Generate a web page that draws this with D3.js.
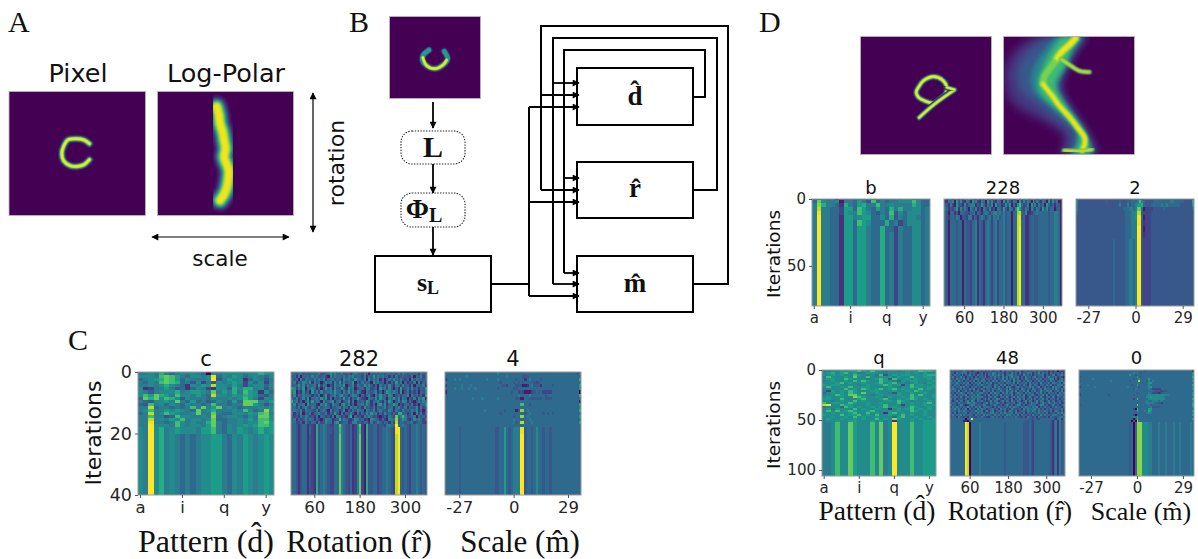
<!DOCTYPE html>
<html>
<head>
<meta charset="utf-8">
<script src="https://cdn.jsdelivr.net/npm/d3@7"></script>
<style>
  body { margin: 0; background: #fff; }
  text { fill: #111; }
  .mpl { font-family: "DejaVu Sans"; }
  .serif { font-family: "Liberation Serif"; }
</style>
</head>
<body>
<div id="chart"></div>
<script>
// Column categories and tick labels shared by the heatmaps
const patternLetters = "abcdefghijklmnopqrstuvwxyz".split("");
const rotationAngles = d3.range(0, 360, 6);
const scaleSteps = d3.range(60);
const patternTicks = ["a", "i", "q", "y"];
const rotationTicks = [60, 180, 300];
const scaleTicks = [6, 30, 54];
const scaleTickLabels = ["-27", "0", "29"];

// Iteration at which each typed row ends
const cRowEnds = [1,2,3,4,5,6,7,8,9,10,11,12,13,14,15,16,17,18,20,40];
const dTopRowEnds = [1,3,6,9,12,16,20,25,30,40,80];
const dBottomRowEnds = [2,4,6,8,10,12,14,16,18,20,22,24,26,28,30,32,34,36,38,40,42,44,46,48,50,52,106];

// Heatmap values, one hex digit per cell (0 = dark purple, f = yellow).
// Spaces only group the digits so the rows are easier to check.
const cPattern = [
  "6676965676 7650767777 677977",
  "7776aba865 7767e57687 567657",
  "56789ba857 6667f46877 257646",
  "6576aba956 4736476787 375736",
  "6676797652 7687d77686 367757",
  "7236686452 5763277597 996746",
  "7646777967 8876b68696 a87275",
  "7a8b986a77 6865d77687 987546",
  "5b9b7a9747 6665766767 a86376",
  "6547786b65 8564576585 bbb768",
  "54a6757657 6656a66566 bb8646",
  "66d5665656 a6b68b6765 666767",
  "67a6687876 5b67966676 a756c7",
  "56d67a8766 7b66b65577 687ab6",
  "66a6645a77 6676c56776 576bb7",
  "66d67687a6 7767b55667 686aa7",
  "66e6656a76 7669b65667 677ab8",
  "66f7776a76 7768b65767 878aa8",
  "76f7967877 7688a65768 767978",
  "76f7967656 5677886576 876787"
];
const cRotation = [
  "5545645445 5564455857 5564453565 5465155545 5455554646 5455553645",
  "4526155547 4644531746 5546465745 5362548465 6452526345 4436154735",
  "5451736554 6465725564 5527564485 5461746562 5146475464 3517465545",
  "4625476482 6451475627 4836455815 3645517564 5152538461 5243617254",
  "4548473645 6283651427 5658145726 5485742516 4547426537 4526155462",
  "8736481557 5251485627 4485275614 5526634518 5637415283 4637452548",
  "5814273518 4637455648 5527484637 5216545725 1486575281 4625351546",
  "4725465552 5361482557 4684525764 1525731648 5537614535 5716453528",
  "5462473815 5648572615 4538462548 5321654738 5516584726 5143627581",
  "9562515738 4651745682 5714582615 4538625574 2638514738 6253146475",
  "4725561845 5216584275 5168472515 5647525168 4725586142 5536241557",
  "5536257436 5274565254 5736527564 5284536254 5735625743 6254472635",
  "5654726554 3725641735 5247153647 5516547256 4437526437 4546572514",
  "6253715462 5574462538 4162547416 2537485625 3745353994 5246173625",
  "5342647534 2615534261 7534269153 4265753421 342653b56a 6345615453",
  "4625347465 2531476523 4946532476 4523176542 531765c458 6324756535",
  "5533526435 5263475526 8345523674 5355263475 355263d455 4556345532",
  "5542455243 2945654335 5b65435236 b319445534 436655f556 5435565454",
  "5542455253 2945654435 5a65435236 a319445534 556543ef54 5435565454",
  "5542455243 2945654335 5b65435236 b319445534 556543df54 5435565454"
];
const cScale = [
  "5555555555 5555555555 5557555555 5555555555 5555555555 5555555546",
  "4555555556 5555555555 5555555655 5555444555 5555555555 5555555555",
  "2555656555 5555555565 5556555555 5455525655 5545555555 5555555559",
  "5555555555 5555555555 5555455555 4545455554 3455555555 5555555555",
  "2555555655 5655555555 5555544355 5444112564 4425555455 5555555558",
  "5555655655 6556555555 5554555555 4455555555 5555555555 5555555557",
  "1555555555 5555555555 5555555554 5534311134 5453333555 5555555550",
  "4555555555 5555555555 5555555555 5565555755 5555455555 5555555559",
  "5555555555 5565556555 5556555555 5441155444 4445444555 5555555555",
  "5555555555 5555555555 5555555555 5555555555 5555555555 5555555551",
  "5555555555 5555555555 5555555555 555aa55455 5555555555 5555555558",
  "5555555555 5555555555 5555555555 5555555555 5555555555 5555555556",
  "5555555555 5555555655 5555554555 514cc56555 5555555555 5555555559",
  "5555555555 5555555555 5555455555 5555545655 5554545455 5555555555",
  "5555555555 5555555555 5555555555 455cc56555 5555555555 5555555558",
  "5555555555 5555555555 5555555555 6555555655 5555555555 5555555555",
  "5555555555 5555555555 5555555555 645dd55565 5555555555 5555555558",
  "5555555555 5555555555 5555555555 5555555555 5555555555 5555555555",
  "5555554555 5555555555 5544558545 666ee45545 7554554555 5555555555",
  "5555554555 5555555555 5544558545 666ff45545 7554554555 5555555555"
];
const dTopPattern = [
  "4444414454 4444544454 554444",
  "5b76671665 864a565667 77a755",
  "6c96652965 8966a66766 669755",
  "6d66553885 a865865969 667756",
  "6e66553876 a875465a47 577756",
  "6f66552886 7885575946 577656",
  "6f66552885 a875559563 577756",
  "6f66552885 8865595536 557756",
  "6f66552885 8865595636 557756",
  "6f66552885 8865595636 557756",
  "6f66552885 8865595636 557756"
];
const dTopRotation = [
  "4143143241 5463413514 3524132534 1352413524 3643524135 2413052331",
  "3265718473 2651847326 5184732651 8374265183 7465193742 6518374611",
  "5426318442 7356672438 5264718452 37481527a5 3461837264 5185352541",
  "6524358274 6416537241 6537241653 8426527b84 3651743652 8473551451",
  "5415524155 4435562542 5653567564 6455155cd5 4722355655 5554556651",
  "5425546514 4366254256 5356365645 6455155de4 5224554455 5554556651",
  "5415554551 5443556254 2565356355 6455155de5 5224554455 5554556651",
  "5415554551 5443556254 2565356355 6455155df5 5224554455 5554556651",
  "5415554551 5443556254 2565356355 6455155df5 5224554455 5554556651",
  "5415554551 5443556254 2565356355 6455155df5 5224554455 5554556651",
  "5415554551 5443556254 2565356355 6455155df5 5224554455 5554556651"
];
const dTopScale = [
  "3333333333 3333333333 3333334444 4443344444 4433343333 3343334333",
  "7444444444 4444454444 4454445455 56a6544445 5555555566 5555544449",
  "6444444444 4444444444 4464446455 6889544455 5556556555 5554444448",
  "6444444444 4444444444 4444555665 6bb5133334 4444544444 4444444445",
  "5444444444 4444444444 4444455566 7dd4333344 4444444444 4444444444",
  "4444444444 4444444444 4444455566 7ee5133344 4444444444 4444444444",
  "4444444444 4444444444 4444455566 6ee4233344 4444444444 4444444444",
  "4444444444 4444444444 4444455566 6ff4133344 4444444444 4444444444",
  "4444444444 4444444444 4444455566 6ff4233344 4444444444 4444444444",
  "4444444444 4444444445 4444455665 6ff4333344 4444444444 4444444444",
  "4444444444 4444444445 4444455665 6ff4333344 4444444444 4444444444"
];
const dBottomPattern = [
  "66778788a8 7a77677678 77a998",
  "78978a7866 8877677778 787877",
  "7787877a87 676a478788 777899",
  "6a77787b77 a768786877 a77887",
  "78877a8777 678a84a778 787787",
  "6787787a7a 877a876587 887778",
  "7778a78778 778a78a776 787687",
  "8788777767 8778a87837 a78778",
  "7a7787a778 8776787677 a87788",
  "67777a787a 878a78a787 87a787",
  "638787a877 7887778778 7a8777",
  "578787a87b 7787764877 877877",
  "677a87bb87 7678777877 a7a778",
  "7877877ca8 7787687787 a87778",
  "8877a7778a 7778a76878 a87877",
  "7767877a78 7777887a87 677787",
  "a78877a877 8778777a77 8778a7",
  "de77a88777 8777a77737 877878",
  "67775a8787 7878a78767 a87787",
  "7868777a78 7787727878 a78787",
  "7a7a78a877 8a77787877 a87877",
  "7787878a77 a78728a787 877877",
  "8777a788a7 87a77877a7 877877",
  "7787787a78 77877758a7 787787",
  "7877877878 77a787c877 878778",
  "6778778877 7878672777 877888",
  "667a77b877 7a7b67f777 a77888"
];
const dBottomRotation = [
  "4535445653 4245453524 4534552635 4543556245 3545536443 5242450423",
  "5526457562 5453145263 5476354525 5364526354 6562547364 5263545362",
  "5364536254 7352645362 5475564725 5674534274 5362545562 5347625574",
  "4635473525 4525355462 3546453746 2574562537 4525735462 5745362531",
  "4536554736 2547635625 4536354736 2547362537 5425374625 4576252473",
  "6453746253 5462547562 5374625574 6527456253 7462537462 5374625574",
  "5547453647 2536572536 4725364526 5546273546 2735452735 4627554628",
  "5364525364 5253647453 6427536472 5364525364 2753642553 6472536573",
  "4635474635 2546352746 5527463527 4632574535 4746357246 3527465527",
  "5753462553 6472536425 5364475346 2753462753 5427534627 5546275364",
  "5463725463 5254632754 6372546437 5463725463 7254634754 6572546372",
  "3526475526 4735467435 2647552647 3562475526 4735264735 2645352647",
  "6372546572 5463752463 7254637254 5372546372 5467325463 7254637554",
  "4556374256 3746567342 5637425637 4256374562 3742563742 5637425537",
  "7362545362 5473652473 6254763254 5362547362 5473625473 6254536254",
  "5247365247 3852647352 4736524736 5274365247 3652473652 4736524536",
  "4553644458 6475342557 3644753524 5546247436 2475562475 3654753624",
  "6452476312 5763544763 2547435247 5352576352 4565524763 5247435247",
  "3647453548 4536472556 5425364545 3647553647 5536572536 4525364525",
  "5574635471 6352746552 4563527463 5274435274 6555746352 5463545463",
  "4553654754 3547556247 3562455362 4753624553 6547536547 5362475362",
  "5362545562 5453647453 4674536474 5562745362 5453547453 6244536574",
  "4645572645 5526453746 5437464537 5645372645 3526453746 4537564537",
  "4552644352 6443546443 2564535264 4554644352 6543526443 5264435564",
  "5555555505 5e55555555 5555555455 5555555555 5444543555 5555425626",
  "5555555110 5555545555 5555555555 5555555554 4543555555 5542562645",
  "55555555fd 0555565555 5555555545 5555555544 4543555555 5542562645"
];
const dBottomScale = [
  "5555555555 5555555555 5555555555 6555455555 5555555555 5555555551",
  "5555555555 5555555555 5555555575 6545555555 5555555555 5555555558",
  "5555555555 5555555555 5555558554 5555555555 5555555555 5555555557",
  "4555555555 5555555555 5555555555 8545555555 5555555555 5555555559",
  "5555555655 5555555555 5555555545 5755558555 5555555555 5555555556",
  "4555555555 5555556555 5555554555 5d55547565 5555555555 5555555558",
  "5555555555 5555555555 5555555555 6555557855 5555555555 5555555555",
  "5555655555 5555555555 5555555455 8555557555 5555555555 5555555559",
  "3555555565 5555555555 5555565555 5455557855 5555555555 5555555556",
  "5555555555 5555555555 5555555546 5555556533 3335555555 5555555558",
  "5555555555 5555555555 5555555555 5555555554 4433445555 5555555555",
  "4555555555 5555555555 5555555555 3555556533 3234555555 5555555557",
  "3555555555 5555545555 5555555545 5555567777 7777776555 5555555558",
  "5555555555 5555555555 5555555555 5555577877 7777655555 5555555555",
  "5555555555 5555555555 5555555535 a555557777 7777755555 5555555559",
  "5555555555 5555555555 5555555555 5555565566 6566555555 5555555556",
  "5555555555 5555555555 5555555555 3555576665 5443555555 5555555558",
  "4555555555 5555555555 5555555555 c555556455 5555555555 5555555559",
  "5555555555 5555555555 5555555555 5555555644 4455555555 5555555557",
  "5555555555 5555555555 5555555530 a555558855 5555555555 5555555555",
  "5555555555 5555555555 5555555555 9555659755 5555555555 5555555558",
  "5555555555 5555555555 5555555555 5555567655 5555555555 5555555556",
  "5555555555 5555555555 5555555530 5555555555 5555555555 5555555558",
  "5555555555 5555555555 5555555575 9555555555 5555555555 5555555555",
  "5555555555 5555555555 5555555505 a555555555 5555555555 5555555558",
  "5555555555 5555555555 5555555050 c655555555 5555555555 5555555555",
  "5555555555 5555555555 5555554505 ccc7776655 5655565556 5565555565"
];

// Glyphs and warped images, in percent of the image box (x, y)
const cPixelStroke = [[59,42],[55,39],[49,38],[43,39],[40,44],[38.6,50],[40,56],[45,60],[50,60.5],[55,59],[59,55]];
const cLogStroke = [[43.5,12],[45,18],[46,26],[48,33],[49,39.5],[50,46],[49,53],[51,59],[52.4,64],[52,71],[51,77.5],[49,83],[46,88]];
const uPixelStroke = [[43.3,40.7],[37,47],[36,52.7],[40.7,60],[50,63.8],[59.3,58.8],[64,51.8],[60.3,42.4]];
const uPixelCore = [[36.5,50],[40.7,60],[50,63.8],[59.3,58.8],[63,53]];
const nineLoop = [[44.2,42.9],[48.1,37.3],[55.8,33.9],[62.6,36.7],[66,42.9],[65.2,48.6],[60.9,52.8],[55.8,56.5],[49.4,54.8],[44.2,51.5],[42.5,47.2],[44.2,42.9]];
const nineTail = [[71.9,45.2],[57,57],[44.7,68.9]];
const nineLink = [[66,43],[72,45]];
const nineUpper = [[55,1],[50,7],[44,13],[41,18]];
const nineMiddle = [[41,18],[36,26],[31,34],[30,40]];
const nineLower = [[30,40],[34,46],[37,50],[42,58],[50,68],[57,78],[62,86],[62,92],[60,97]];
const nineHook = [[44,19],[52,25],[58,29],[66,30]];
const nineBase = [[46,97],[60,97.5],[68,96]];
// Log-polar shape of the 9: row, left edge, right edge, in percent
const nineHazeFar = [[0,22,64],[10,8,56],[25,0,50],[40,0,42],[55,3,48],[65,16,54],[75,36,60],[85,50,67],[100,42,72]];
const nineHazeMid = [[0,32,63],[10,20,55],[20,12,50],[30,9,46],[40,10,41],[50,14,44],[60,28,50],[70,40,56],[80,52,62],[90,54,66],[100,46,70]];
const nineHazeTeal = [[0,39,62],[10,32,54],[20,25,50],[30,21,46],[40,20,40],[50,24,43],[60,37,49],[70,47,56],[80,57,62],[90,57,66],[100,50,69]];
const nineHazeGreen = [[0,44,58],[10,37,51],[20,32,49],[30,28,44],[40,25,38],[50,28,42],[60,39,48],[70,49,55],[80,58,61],[90,58,65],[100,54,66]];

const svg = d3.select("#chart").append("svg")
    .attr("width", 1198)
    .attr("height", 559)
    .style("display", "block");

const defs = svg.append("defs");
[["blurCell", 0.7], ["blurThin", 0.6], ["blurGlyph", 1.2], ["blurSoft", 2], ["blurHaze", 4]].forEach(([id, dev]) => {
    defs.append("filter").attr("id", id)
        .attr("x", "-30%").attr("y", "-30%").attr("width", "160%").attr("height", "160%")
        .append("feGaussianBlur").attr("stdDeviation", dev);
});
defs.append("marker").attr("id", "head").attr("viewBox", "0 0 10 10")
    .attr("refX", 9).attr("refY", 5).attr("markerWidth", 10).attr("markerHeight", 7)
    .attr("markerUnits", "userSpaceOnUse").attr("orient", "auto-start-reverse")
    .append("path").attr("d", "M0,0L10,5L0,10Z").attr("fill", "#000");

const color = d3.scaleSequential(d3.interpolateViridis).domain([0, 14.5]).clamp(true);
const glyphLine = d3.line().curve(d3.curveCatmullRom);

// Viridis bands from the outside of a stroke to its core
const strokeBands = [[0.08, 2.1], [0.3, 1.6], [0.55, 1.25], [0.8, 0.95], [0.98, 0.65]];

function imageBox(x0, x1, y0, y1) {
    const box = { x: d3.scaleLinear().domain([0, 100]).range([x0, x1]),
                  y: d3.scaleLinear().domain([0, 100]).range([y0, y1]) };
    box.g = svg.append("g");
    box.g.append("rect").attr("x", x0 - 0.5).attr("y", y0 - 0.5)
        .attr("width", x1 - x0 + 1).attr("height", y1 - y0 + 1)
        .attr("fill", "#440154").attr("stroke", "#bbb").attr("stroke-width", 0.8);
    const clip = "clip" + Math.round(x0) + "_" + Math.round(y0);
    defs.append("clipPath").attr("id", clip).append("rect")
        .attr("x", x0).attr("y", y0).attr("width", x1 - x0).attr("height", y1 - y0);
    box.g = box.g.append("g").attr("clip-path", `url(#${clip})`);
    return box;
}

function drawStroke(box, points, width, { bands = strokeBands, filter = "blurThin" } = {}) {
    const line = glyphLine.x(d => box.x(d[0])).y(d => box.y(d[1]));
    bands.forEach(([level, factor]) => {
        box.g.append("path").attr("d", line(points))
            .attr("fill", "none")
            .attr("stroke", d3.interpolateViridis(level))
            .attr("stroke-width", width * factor)
            .attr("stroke-linecap", "round")
            .attr("stroke-linejoin", "round")
            .attr("filter", `url(#${filter})`);
    });
}

function drawHaze(box, rows, level, filter) {
    const area = d3.area().curve(d3.curveBasis)
        .y(d => box.y(d[0])).x0(d => box.x(d[1])).x1(d => box.x(d[2]));
    box.g.append("path").attr("d", area(rows))
        .attr("fill", d3.interpolateViridis(level))
        .attr("filter", `url(#${filter})`);
}

function heatmap({ left, right, top, bottom, columns, rows, ends, ticks, tickLabels, title, titleY, yMax, yTicks, fontSize, titleSize, tickFont }) {
    const x = d3.scaleBand().domain(columns).range([left, right]);
    const y = d3.scaleLinear().domain([0, yMax]).range([top, bottom]);
    const g = svg.append("g");

    const clip = "heat" + Math.round(left) + "_" + Math.round(top);
    defs.append("clipPath").attr("id", clip).append("rect")
        .attr("x", left).attr("y", top).attr("width", right - left).attr("height", bottom - top);

    const cells = g.append("g").attr("clip-path", `url(#${clip})`)
        .append("g").attr("filter", "url(#blurCell)").attr("shape-rendering", "crispEdges");
    rows.forEach((row, r) => {
        const from = r === 0 ? 0 : ends[r - 1];
        const digits = row.replace(/ /g, "");
        columns.forEach((c, i) => {
            cells.append("rect")
                .attr("x", x(c)).attr("y", y(from))
                .attr("width", x.bandwidth() + 0.6)
                .attr("height", y(ends[r]) - y(from) + 0.6)
                .attr("fill", color(parseInt(digits[i] || "5", 16)));
        });
    });

    g.append("rect").attr("x", left).attr("y", top)
        .attr("width", right - left).attr("height", bottom - top)
        .attr("fill", "none").attr("stroke", "#9a9a9a").attr("stroke-width", 1);

    const xAxis = d3.axisBottom(x).tickValues(ticks).tickSize(3).tickPadding(3);
    if (tickLabels) xAxis.tickFormat((d, i) => tickLabels[i]);
    const xg = g.append("g").attr("transform", `translate(0,${bottom})`).call(xAxis);
    xg.select(".domain").remove();
    xg.selectAll("text").style("font-size", fontSize + "px").style("font-family", "DejaVu Sans").style("fill", "#262626");
    xg.selectAll("line").attr("stroke", "#555");

    if (yTicks) {
        const yg = g.append("g").attr("transform", `translate(${left},0)`)
            .call(d3.axisLeft(y).tickValues(yTicks).tickSize(3).tickPadding(3));
        yg.select(".domain").remove();
        yg.selectAll("text").style("font-size", (tickFont || fontSize) + "px").style("font-family", "DejaVu Sans").style("fill", "#262626");
        yg.selectAll("line").attr("stroke", "#555");
    }

    g.append("text").attr("class", "mpl").attr("x", (left + right) / 2).attr("y", titleY)
        .attr("text-anchor", "middle").style("font-size", titleSize + "px").text(title);
}

function label(text, x, y, size, cls = "mpl", anchor = "middle", rotate = 0) {
    return svg.append("text").attr("class", cls)
        .attr("transform", `translate(${x},${y}) rotate(${rotate})`)
        .attr("text-anchor", anchor)
        .style("font-size", size + "px")
        .text(text);
}

// Panel A
label("A", 8, 32, 30, "serif", "start");
label("Pixel", 78, 82, 25.5);
label("Log-Polar", 226, 82, 25.5);
const pixelBox = imageBox(9.5, 145, 92, 215);
drawStroke(pixelBox, cPixelStroke, 3.8);
const logBox = imageBox(158, 293, 92, 215);
drawStroke(logBox, cLogStroke, 11, { filter: "blurGlyph" });
svg.append("path").attr("d", "M313,93V232").attr("stroke", "#000").attr("stroke-width", 1.2)
    .attr("marker-start", "url(#head)").attr("marker-end", "url(#head)");
svg.append("path").attr("d", "M152,237H289").attr("stroke", "#000").attr("stroke-width", 1.2)
    .attr("marker-start", "url(#head)").attr("marker-end", "url(#head)");
label("rotation", 344, 163, 22, "mpl", "middle", -90);
label("scale", 220, 266, 21.5);

// Panel B, the network diagram
label("B", 349, 32, 30, "serif", "start");
const inputBox = imageBox(390, 480, 17, 98);
drawStroke(inputBox, uPixelStroke, 3.4, { bands: strokeBands.slice(0, 3) });
drawStroke(inputBox, uPixelCore, 3.4, { bands: strokeBands.slice(3) });

const diagram = svg.append("g").attr("fill", "none").attr("stroke", "#000");
[[375, 256, 116, 56], [577, 68, 116, 57], [577, 162, 116, 56], [577, 256, 116, 56]].forEach(([x, y, w, h]) => {
    diagram.append("rect").attr("x", x).attr("y", y).attr("width", w).attr("height", h)
        .attr("fill", "#fff").attr("stroke-width", 2);
});
[[401, 131, 64, 33], [401, 193, 64, 34]].forEach(([x, y, w, h]) => {
    diagram.append("rect").attr("x", x).attr("y", y).attr("width", w).attr("height", h)
        .attr("rx", 11).attr("stroke-width", 1.1).attr("stroke", "#222").attr("stroke-dasharray", "1.4 1.4");
});
// Wires without a head, then wires ending in an arrow
["M491,284H529", "M529,107V296",
 "M693,97H705V50H564V273", "M693,190H717V38H553V284", "M693,284H728V26H541V190"]
    .forEach(d => diagram.append("path").attr("d", d).attr("stroke-width", 2));
["M433,102V128", "M433,164V193", "M433,227V255",
 "M529,107H579", "M529,202H579", "M529,296H579",
 "M564,273H579", "M564,178H579", "M553,284H579", "M553,83H579", "M541,190H579", "M541,95H579"]
    .forEach(d => diagram.append("path").attr("d", d).attr("stroke-width", 1.8).attr("marker-end", "url(#head)"));

svg.selectAll("text.box").data([["d\u0302", 635, 105], ["r\u0302", 635, 197], ["m\u0302", 635, 292]])
    .enter().append("text").attr("class", "serif box")
    .attr("x", d => d[1]).attr("y", d => d[2]).attr("text-anchor", "middle")
    .style("font-size", "27px").style("font-weight", "bold").text(d => d[0]);
label("L", 433, 157, 30, "serif").style("font-weight", "bold");
const phi = label("\u03A6", 424, 218, 28, "serif").style("font-weight", "bold");
phi.append("tspan").attr("dy", 4).style("font-size", "20px").text("L");
const sl = label("s", 428, 291, 26, "serif").style("font-weight", "bold");
sl.append("tspan").attr("dy", 3).style("font-size", "18px").text("L");

// Panel C
label("C", 68, 350, 30, "serif", "start");
const cCommon = { top: 372, bottom: 495, ends: cRowEnds, titleY: 366, yMax: 40, fontSize: 16.5, titleSize: 21, tickFont: 17.5 };
heatmap({ ...cCommon, left: 138, right: 274, columns: patternLetters, rows: cPattern, ticks: patternTicks, title: "c", yTicks: [0, 20, 40] });
heatmap({ ...cCommon, left: 291, right: 427, columns: rotationAngles, rows: cRotation, ticks: rotationTicks, title: "282" });
heatmap({ ...cCommon, left: 445, right: 581, columns: scaleSteps, rows: cScale, ticks: scaleTicks, tickLabels: scaleTickLabels, title: "4" });
label("Iterations", 101, 433, 22, "mpl", "middle", -90);
label("Pattern (d\u0302)", 206, 552, 32, "serif");
label("Rotation (r\u0302)", 359, 552, 31, "serif");
label("Scale (m\u0302)", 520, 552, 31, "serif");

// Panel D
label("D", 759, 32, 30, "serif", "start");
const ninePixel = imageBox(861, 991, 37, 154);
drawStroke(ninePixel, nineLoop, 3.3);
drawStroke(ninePixel, nineTail, 3);
drawStroke(ninePixel, nineLink, 2.8);
const nineLog = imageBox(1004, 1134, 37, 154);
drawHaze(nineLog, nineHazeFar, 0.14, "blurHaze");
drawHaze(nineLog, nineHazeMid, 0.27, "blurHaze");
drawHaze(nineLog, nineHazeTeal, 0.45, "blurSoft");
drawHaze(nineLog, nineHazeGreen, 0.68, "blurSoft");
drawStroke(nineLog, nineMiddle, 7, { bands: strokeBands.slice(3, 4), filter: "blurGlyph" });
drawStroke(nineLog, nineUpper, 8, { bands: strokeBands.slice(3), filter: "blurGlyph" });
drawStroke(nineLog, nineLower, 6, { bands: strokeBands.slice(3), filter: "blurGlyph" });
drawStroke(nineLog, nineHook, 3, { bands: strokeBands.slice(2), filter: "blurGlyph" });
drawStroke(nineLog, nineBase, 3, { bands: strokeBands.slice(2), filter: "blurGlyph" });

const dTopCommon = { top: 199, bottom: 306, ends: dTopRowEnds, titleY: 194, yMax: 80, fontSize: 15, titleSize: 18 };
heatmap({ ...dTopCommon, left: 812, right: 930, columns: patternLetters, rows: dTopPattern, ticks: patternTicks, title: "b", yTicks: [0, 50] });
heatmap({ ...dTopCommon, left: 944, right: 1062, columns: rotationAngles, rows: dTopRotation, ticks: rotationTicks, title: "228" });
heatmap({ ...dTopCommon, left: 1076, right: 1194, columns: scaleSteps, rows: dTopScale, ticks: scaleTicks, tickLabels: scaleTickLabels, title: "2" });
label("Iterations", 780, 254, 18.5, "mpl", "middle", -90);

const dBottomCommon = { top: 370, bottom: 476, ends: dBottomRowEnds, titleY: 364, yMax: 106, fontSize: 15, titleSize: 18 };
heatmap({ ...dBottomCommon, left: 822, right: 936, columns: patternLetters, rows: dBottomPattern, ticks: patternTicks, title: "q", yTicks: [0, 50, 100] });
heatmap({ ...dBottomCommon, left: 950, right: 1065, columns: rotationAngles, rows: dBottomRotation, ticks: rotationTicks, title: "48" });
heatmap({ ...dBottomCommon, left: 1079, right: 1194, columns: scaleSteps, rows: dBottomScale, ticks: scaleTicks, tickLabels: scaleTickLabels, title: "0" });
label("Iterations", 780, 425, 18.5, "mpl", "middle", -90);
label("Pattern (d\u0302)", 877, 520, 27.5, "serif");
label("Rotation (r\u0302)", 1010, 520, 26.5, "serif");
label("Scale (m\u0302)", 1141, 520, 26, "serif");
</script>
</body>
</html>
